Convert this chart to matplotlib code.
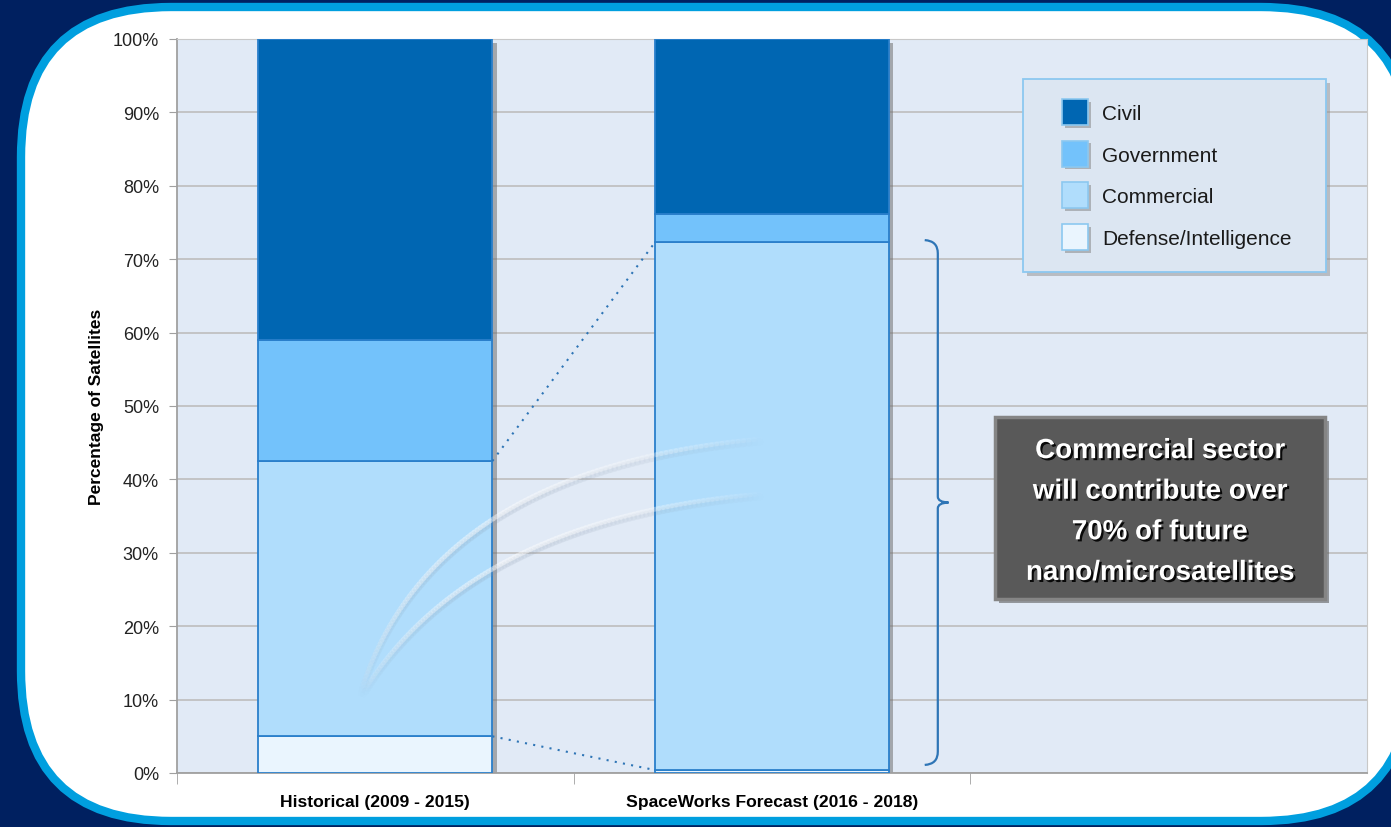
import matplotlib
matplotlib.use("Agg")
import matplotlib.pyplot as plt
import matplotlib.patheffects as pe
import numpy as np
from matplotlib.patches import FancyBboxPatch, Rectangle, PathPatch
from matplotlib.path import Path
from matplotlib.collections import LineCollection

plt.rcParams['font.family'] = ['Liberation Sans', 'DejaVu Sans']

# satellite share by sector, in percent
periods = ["Historical (2009 - 2015)", "SpaceWorks Forecast (2016 - 2018)"]
sectors = ["Defense/Intelligence", "Commercial", "Government", "Civil"]
defense = [5.0, 0.4]
commercial = [37.5, 71.9]
government = [16.5, 3.9]
civil = [41.0, 23.8]
colors = ["#EAF5FE", "#B0DDFC", "#73C2FB", "#0066B2"]
callout = "Commercial sector\nwill contribute over\n70% of future\nnano/microsatellites"

W, H = 1391, 828
fig = plt.figure(figsize=(W / 100, H / 100), dpi=100)
fig.patch.set_facecolor("#002060")

# slide frame (pixel coords)
bg = fig.add_axes([0, 0, 1, 1])
bg.set_xlim(0, W)
bg.set_ylim(H, 0)
bg.axis("off")
frame = FancyBboxPatch((21, 8), 1390, 814, boxstyle="round,pad=0,rounding_size=150",
                       facecolor="white", edgecolor="#009FDF", linewidth=6)
bg.add_patch(frame)

ax = fig.add_axes([177 / W, (H - 774) / H, (1367 - 177) / W, (774 - 40) / H])
ax.set_facecolor("#E1EAF6")
ax.set_xlim(-0.5, 2.5)
ax.set_ylim(0, 100)

x = [0, 1]
width = 0.59
stack = [defense, commercial, government, civil]

# drop shadow behind each whole bar
totals = [sum(v) for v in zip(*stack)]
ax.bar(x, totals, width, color="#E1EAF6", linewidth=0, zorder=2,
       path_effects=[pe.SimplePatchShadow(offset=(3, -3), shadow_rgbFace="#707070", alpha=0.55),
                     pe.Normal()])

bottom = [0.0, 0.0]
for vals, col in zip(stack, colors):
    ax.bar(x, vals, width, bottom=bottom, color=col, edgecolor="#2A7FCB", linewidth=1.3, zorder=3)
    bottom = [b + v for b, v in zip(bottom, vals)]

# axes styling
ax.set_yticks(range(0, 101, 10))
ax.set_yticklabels([f"{v}%" for v in range(0, 101, 10)], fontsize=13, color="#222222")
ax.yaxis.grid(True, color="#BDBDBD", linewidth=1.2, zorder=0)
ax.set_axisbelow(True)
ax.tick_params(axis="y", length=6, color="#A0A0A0", pad=7)
ax.set_xticks(x)
ax.set_xticklabels(periods, fontsize=12.6, fontweight="bold")
ax.tick_params(axis="x", which="major", length=0, pad=15)
ax.set_xticks([-0.5, 0.5, 1.5], minor=True)
ax.tick_params(axis="x", which="minor", length=8, color="#A0A0A0")
for s in ["top", "right"]:
    ax.spines[s].set_color("#C8C8C8")
for s in ["left", "bottom"]:
    ax.spines[s].set_color("#A0A0A0")
    ax.spines[s].set_linewidth(1.3)
ax.set_ylabel("Percentage of Satellites", fontsize=12.5, fontweight="bold", labelpad=6.5)

# dotted connectors between the commercial segments
x_r = x[0] + width / 2
x_l = x[1] - width / 2
ax.plot([x_r, x_l], [defense[0] + commercial[0], defense[1] + commercial[1]],
        linestyle=(0, (1, 3)), color="#2E75B6", linewidth=1.5, zorder=4)
ax.plot([x_r, x_l], [defense[0], defense[1]],
        linestyle=(0, (1, 3)), color="#2E75B6", linewidth=1.5, zorder=4)

# bracket next to the forecast commercial segment
lo = defense[1] + 1.0
hi = defense[1] + commercial[1]
mid = (lo + hi) / 2
x0, x1, x2 = 1.385, 1.418, 1.445
verts = [(x0, hi + 0.3), (x1, hi + 0.2), (x1, hi - 1.5),
         (x1, mid + 0.8),
         (x1, mid + 0.05), (x2, mid),
         (x1, mid - 0.05), (x1, mid - 0.8),
         (x1, lo + 1.5),
         (x1, lo - 0.2), (x0, lo - 0.3)]
codes = [Path.MOVETO, Path.CURVE3, Path.CURVE3,
         Path.LINETO,
         Path.CURVE3, Path.CURVE3,
         Path.CURVE3, Path.CURVE3,
         Path.LINETO,
         Path.CURVE3, Path.CURVE3]
ax.add_patch(PathPatch(Path(verts, codes), facecolor="none", edgecolor="#2E75B6",
                       linewidth=1.6, zorder=4, clip_on=False))

# overlay in pixel coords for the watermark, legend and callout
top = fig.add_axes([0, 0, 1, 1])
top.set_xlim(0, W)
top.set_ylim(H, 0)
top.axis("off")
top.patch.set_visible(False)

# faint swoosh watermark, tapered at both ends
t = np.linspace(0, 1, 120)
fade = np.sin(np.pi * t) ** 0.7
for p0, p1, p2 in [((360, 695), (430, 470), (760, 440)),
                   ((362, 695), (470, 520), (760, 495))]:
    px = (1 - t) ** 2 * p0[0] + 2 * t * (1 - t) * p1[0] + t ** 2 * p2[0]
    py = (1 - t) ** 2 * p0[1] + 2 * t * (1 - t) * p1[1] + t ** 2 * p2[1]
    for off, col, a, lw in [(3, "#8A9AAE", 0.09, 5), (0, "white", 0.28, 3.5)]:
        pts = np.column_stack([px, py + off]).reshape(-1, 1, 2)
        segs = np.concatenate([pts[:-1], pts[1:]], axis=1)
        rgba = np.zeros((len(segs), 4))
        rgba[:, :3] = matplotlib.colors.to_rgb(col)
        rgba[:, 3] = a * fade[:-1]
        top.add_collection(LineCollection(segs, colors=rgba, linewidths=lw, zorder=1, capstyle="round"))

# legend box
lg = Rectangle((1023, 80), 303, 193, facecolor="#DCE6F2", edgecolor="#8CC8F0", linewidth=1.3,
               zorder=5, path_effects=[pe.SimplePatchShadow(offset=(3, -3), shadow_rgbFace="#909090", alpha=0.5),
                                       pe.Normal()])
top.add_patch(lg)
for i, (name, col) in enumerate(zip(sectors[::-1], colors[::-1])):
    cy = 113 + i * 41.7
    top.add_patch(Rectangle((1062, cy - 13), 26, 26, facecolor=col, edgecolor="#8CC8F0", linewidth=1.2,
                            zorder=6,
                            path_effects=[pe.SimplePatchShadow(offset=(2, -2), shadow_rgbFace="#808080", alpha=0.5),
                                          pe.Normal()]))
    top.text(1102, cy + 1.5, name, fontsize=15, color="#1A1A1A", va="center", ha="left", zorder=6)

# callout box
box = Rectangle((995, 418), 330, 182, facecolor="#595959", edgecolor="#858585", linewidth=2.5,
                zorder=5, path_effects=[pe.SimplePatchShadow(offset=(3, -3), shadow_rgbFace="#606060", alpha=0.6),
                                        pe.Normal()])
top.add_patch(box)
top.text(1160, 513, callout, fontsize=20, fontweight="bold", color="white", ha="center", va="center",
         linespacing=1.73, zorder=6,
         path_effects=[pe.withSimplePatchShadow(offset=(1.5, -1.5), shadow_rgbFace="black", alpha=0.9)])

fig.savefig("out.png", dpi=100, facecolor=fig.get_facecolor())
